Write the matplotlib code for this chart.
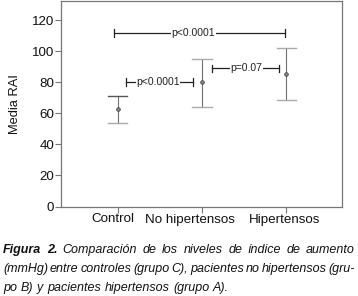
import matplotlib
matplotlib.use("Agg")
import matplotlib.pyplot as plt
import matplotlib.transforms as mtransforms
import numpy as np

plt.rcParams['font.family'] = ['Liberation Sans', 'DejaVu Sans']

groups = ['Control', 'No hipertensos', 'Hipertensos']
means = [62.7, 80.0, 85.4]
upper = [71.3, 95.2, 102.0]
lower = [53.7, 64.0, 68.7]
cap_top_colors = ['#555555', '#aaaaaa', '#aaaaaa']
cap_bot_colors = ['#aaaaaa', '#aaaaaa', '#aaaaaa']
# tick labels in the original sit a bit left of their ticks (pixels)
label_shift = [-5.2, -11.6, -2.0]

# brackets: (x start, x end, y, label, label x)
brackets = [
    (0.956, 2.985, 111.8, 'p<0.0001', 1.90),
    (1.095, 1.890, 80.0, 'p<0.0001', 1.48),
    (2.115, 2.917, 89.0, 'p=0.07', 2.53),
]

caption = [
    [('Figura', 'bold'), ('2.', 'bold'), ('Comparación', 'normal'), ('de', 'normal'),
     ('los', 'normal'), ('niveles', 'normal'), ('de', 'normal'), ('índice', 'normal'),
     ('de', 'normal'), ('aumento', 'normal')],
    [(w, 'normal') for w in '(mmHg) entre controles (grupo C), pacientes no hipertensos (gru-'.split()],
    [(w, 'normal') for w in 'po B) y pacientes hipertensos (grupo A).'.split()],
]

W, H = 358, 296
fig = plt.figure(figsize=(W / 100, H / 100), dpi=100)
ax = fig.add_axes([61 / W, 1 - 206.5 / H, (342 - 61) / W, 206.5 / H - 0.003])

x = np.arange(1, len(groups) + 1)
for i in range(len(groups)):
    ax.plot([x[i], x[i]], [lower[i], upper[i]], color='#707070', lw=0.8)
    ax.plot([x[i] - 0.115, x[i] + 0.115], [upper[i], upper[i]], color=cap_top_colors[i], lw=1.0)
    ax.plot([x[i] - 0.115, x[i] + 0.115], [lower[i], lower[i]], color=cap_bot_colors[i], lw=1.0)
ax.plot(x, means, 'o', ms=2.6, mfc='#888888', mec='#444444', mew=0.6, ls='none')

for xs, xe, yb, lab, lx in brackets:
    ax.plot([xs, xe], [yb, yb], color='#222222', lw=0.9)
    ax.plot([xs, xs], [yb - 2.5, yb + 2.5], color='#222222', lw=0.9)
    ax.plot([xe, xe], [yb - 2.5, yb + 2.5], color='#222222', lw=0.9)
    ax.text(lx, yb, lab, ha='center', va='center', fontsize=7.5, color='#222222',
            bbox=dict(facecolor='white', edgecolor='none', pad=0.3))

ax.set_xlim(0.328, 3.66)
ax.set_ylim(0, 132.5)
ax.set_yticks(np.arange(0, 121, 20))
ax.set_xticks(x)
ax.set_xticklabels([])
base = ax.get_xaxis_transform()
for xi, g, dx in zip(x, groups, label_shift):
    tr = base + mtransforms.ScaledTranslation(dx / 100, -7 / 100, fig.dpi_scale_trans)
    ax.text(xi, 0, g, transform=tr, ha='center', va='top', fontsize=9.6, color='#111111')
ax.tick_params(axis='y', labelsize=9.6, colors='#111111', pad=0.8)
ax.tick_params(color='#777777', length=4, width=0.8)
for s in ax.spines.values():
    s.set_color('#777777')
    s.set_linewidth(0.9)
ax.set_ylabel('Media RAI', fontsize=9.3, color='#111111', labelpad=8)

# caption, justified lines
renderer = fig.canvas.get_renderer()
baselines = [253, 272.3, 291.5]
fs = 9.0
for li, words in enumerate(caption):
    objs = []
    for w, wt in words:
        t = fig.text(0, 0, w, fontsize=fs, style='italic', weight=wt, color='#111111',
                     va='baseline', ha='left')
        objs.append(t)
    widths = [t.get_window_extent(renderer).width for t in objs]
    x0, x1 = 3.0, 355.0
    if li < len(caption) - 1:
        gap = (x1 - x0 - sum(widths)) / (len(words) - 1)
    else:
        gap = fs * 100 / 72 * 0.3
    cx = x0
    for t, wd in zip(objs, widths):
        t.set_position((cx / W, 1 - baselines[li] / H))
        cx += wd + gap

fig.savefig('out.png', dpi=100)
